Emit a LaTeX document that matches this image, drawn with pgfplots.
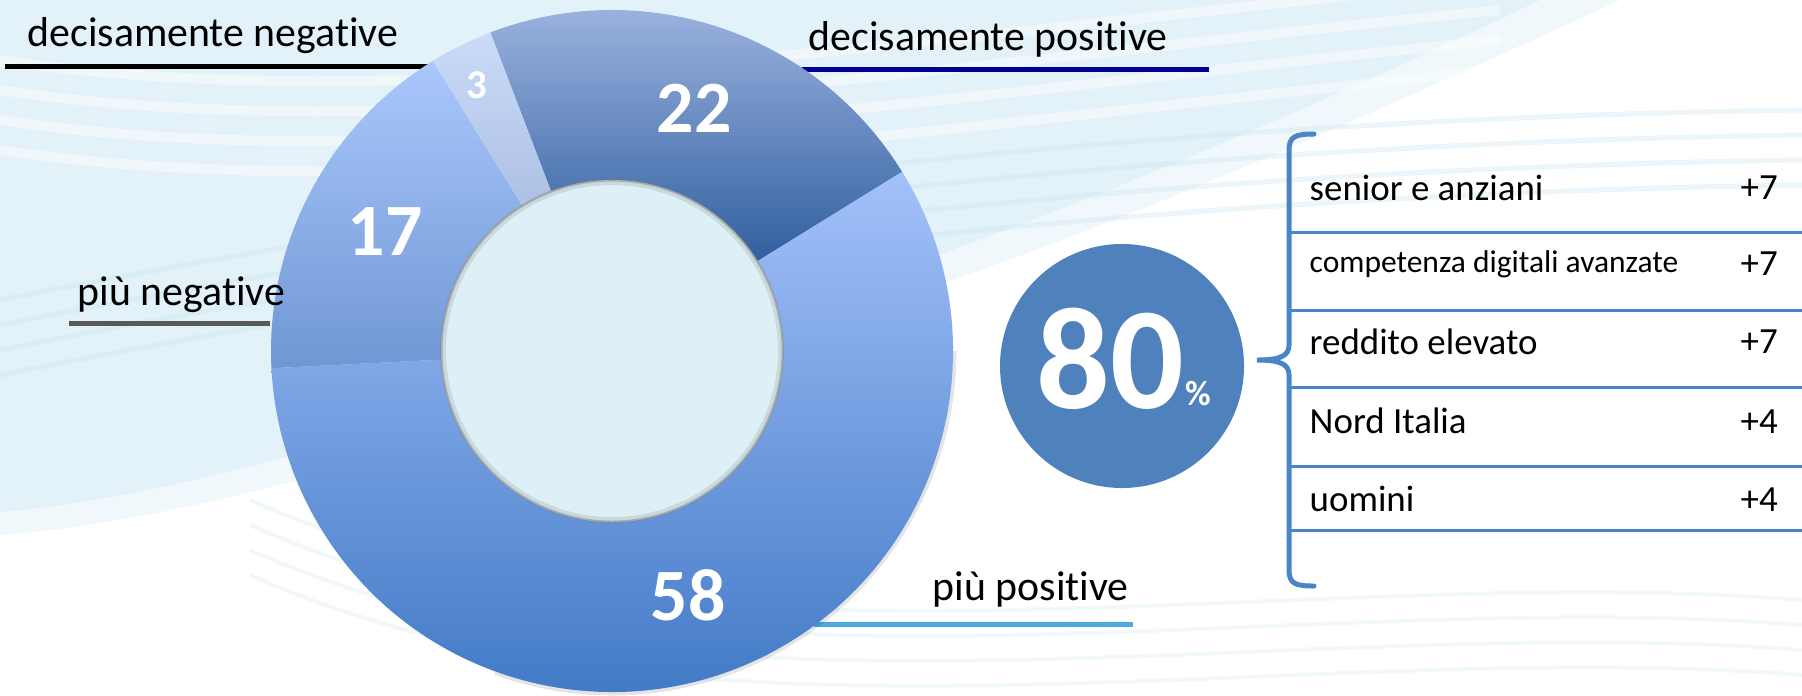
\documentclass[border=0pt]{standalone}
\usepackage{pgfplots}
\pgfplotsset{compat=1.18}
\usepackage{pgfplotstable}
\usepackage{fontspec}
\setmainfont[Ligatures={NoCommon,NoContextual,NoRare},Contextuals=NoAlternate]{Carlito}

\definecolor{bgblue}{HTML}{E2F2F8}
\definecolor{bgline}{HTML}{C9E4F1}
\definecolor{holebg}{HTML}{DDF0F6}
\definecolor{navy}{HTML}{000099}
\definecolor{lgray}{HTML}{595959}
\definecolor{aqua}{HTML}{4BA9DE}
\definecolor{circ}{HTML}{4F81BD}
\definecolor{brk}{HTML}{4A86C6}
\definecolor{aT}{HTML}{A9BDE7}\definecolor{aB}{HTML}{305F9F}
\definecolor{bT}{HTML}{A3C1F9}\definecolor{bB}{HTML}{3A74C2}
\definecolor{cT}{HTML}{AAC7FB}\definecolor{cB}{HTML}{7097D4}
\definecolor{dT}{HTML}{CBDBF8}\definecolor{dB}{HTML}{ADC1E5}

% donut values, clockwise from the top
\pgfplotstableread{
val
22
58
17
3
}\donut

\pgfplotstablegetelem{0}{val}\of\donut\let\vA\pgfplotsretval
\pgfplotstablegetelem{1}{val}\of\donut\let\vB\pgfplotsretval
\pgfplotstablegetelem{2}{val}\of\donut\let\vC\pgfplotsretval
\pgfplotstablegetelem{3}{val}\of\donut\let\vD\pgfplotsretval

\pgfmathsetmacro\aA{110.9}
\pgfmathsetmacro\aB{\aA-3.6*\vA}
\pgfmathsetmacro\aC{\aB-3.6*\vB}
\pgfmathsetmacro\aD{\aC-3.6*\vC}
\pgfmathsetmacro\aE{\aD-3.6*\vD}
\pgfmathsetmacro\mA{(\aA+\aB)/2}
\pgfmathsetmacro\mB{(\aB+\aC)/2}
\pgfmathsetmacro\mC{(\aC+\aD)/2}
\pgfmathsetmacro\mD{(\aD+\aE)/2}

\newcommand{\seg}[4]{% start, end, top colour, bottom colour
  \shade[top color=#3, bottom color=#4]
    ([shift={(#1:34.1mm)}]C) arc[start angle=#1, end angle=#2, radius=34.1mm]
    -- ([shift={(#2:17.1mm)}]C) arc[start angle=#2, end angle=#1, radius=17.1mm]
    -- cycle;}

\begin{document}
\begin{tikzpicture}
\begin{axis}[
  width=180.2mm, height=69.5mm, scale only axis,
  xmin=0, xmax=1802, ymin=0, ymax=695, y dir=reverse,
  hide axis, clip=false,
  at={(0,0)}, anchor=south west,
]
% background
\fill[white] (0,0) rectangle (1802,695);
\fill[bgblue, opacity=0.5] (0,0) -- (1620,0) .. controls (1340,130) and (1020,270) .. (760,340)
  .. controls (450,440) and (200,520) .. (0,535) -- cycle;
\fill[bgblue] (0,0) -- (1540,0) .. controls (1290,120) and (990,245) .. (760,315)
  .. controls (450,410) and (200,495) .. (0,512) -- cycle;
\pgfplotsinvokeforeach{0,30,60,90}{
  \draw[white, line width=1.0mm, opacity=0.45] (0,60+#1) .. controls (400,120+#1) and (900,40+#1) .. (1500,-20+#1);
}
\pgfplotsinvokeforeach{0,25,50,75}{
  \draw[bgline, line width=0.5mm, opacity=0.35] (0,300+#1) .. controls (500,200+#1) and (1100,120+#1) .. (1802,110+#1);
  \draw[bgline, line width=0.4mm, opacity=0.25] (250,500+#1) .. controls (700,700+#1) and (1300,560+#1) .. (1802,600+#1);
}

% leader lines
\draw[black, line width=0.5mm] (5,66.5) -- (428,66.5);
\draw[navy, line width=0.5mm] (802,69.5) -- (1209,69.5);
\draw[lgray, line width=0.5mm] (69,323.5) -- (270,323.5);
\draw[aqua, line width=0.5mm] (814,624.5) -- (1133,624.5);

% donut
\coordinate (C) at (612,351);
\draw[black, opacity=0.1, line width=0.5mm] ([shift={(-110:34.2mm)}]C) arc[start angle=-110, end angle=0, radius=34.2mm];
\seg{\aA}{\aB}{aT}{aB}
\seg{\aB}{\aC}{bT}{bB}
\seg{\aC}{\aD}{cT}{cB}
\seg{\aD}{\aE}{dT}{dB}
\fill[holebg] (C) circle[radius=17.1mm];
\draw[gray, opacity=0.2, line width=0.6mm] (C) circle[radius=16.9mm];
\draw[gray, opacity=0.5, line width=0.2mm] (C) circle[radius=17.05mm];

% segment values
\node[white, font=\fontsize{21}{21}\selectfont\bfseries, inner sep=0] at ([shift={(\mA:25.6mm)}]C) {\vA};
\node[white, font=\fontsize{21}{21}\selectfont\bfseries, inner sep=0] at ([shift={(\mB:25.6mm)}]C) {\vB};
\node[white, font=\fontsize{21}{21}\selectfont\bfseries, inner sep=0] at ([shift={(\mC:25.6mm)}]C) {\vC};
\node[white, font=\fontsize{11.6}{12}\selectfont\bfseries, inner sep=0] at ([shift={(117:29.8mm)}]C) {\vD};

% category labels
\node[anchor=base west, inner sep=0, font=\fontsize{11.9}{14}\selectfont] at (27,46) {decisamente negat\kern0pt ive};
\node[anchor=base west, inner sep=0, font=\fontsize{11.9}{14}\selectfont] at (808,50) {decisamente posit\kern0pt ive};
\node[anchor=base west, inner sep=0, font=\fontsize{11.9}{14}\selectfont] at (77,305) {più negat\kern0pt ive};
\node[anchor=base west, inner sep=0, font=\fontsize{11.9}{14}\selectfont] at (932,600) {più posit\kern0pt ive};

% 80% circle
\fill[circ] (1122,366) circle[radius=12.2mm];
\node[white, inner sep=0, font=\fontsize{41.4}{42}\selectfont\bfseries] at (1110,359) {80};
\node[white, inner sep=0, font=\fontsize{10}{10}\selectfont\bfseries] at (1198,393.5) {\%};

% bracket and rows
\draw[brk, line width=0.5mm, line cap=round] (1314,134) .. controls (1296,134) and (1289,136) .. (1289,150)
  -- (1289,345) .. controls (1289,356) and (1280,360) .. (1257,360)
  .. controls (1280,360) and (1289,364) .. (1289,375)
  -- (1289,570) .. controls (1289,584) and (1296,586) .. (1314,586);
\pgfplotsinvokeforeach{232,310,387,466,530}{
  \draw[brk, line width=0.3mm] (1289,#1) -- (1802,#1);
}
\node[anchor=base west, inner sep=0, font=\fontsize{10.5}{12}\selectfont] at (1309,200) {senior e anziani};
\node[anchor=base west, inner sep=0, font=\fontsize{8.96}{10}\selectfont] at (1309,272) {competenza digitali avanzate};
\node[anchor=base west, inner sep=0, font=\fontsize{10.5}{12}\selectfont] at (1309,354) {reddito elevato};
\node[anchor=base west, inner sep=0, font=\fontsize{10.5}{12}\selectfont] at (1309,433) {Nord Italia};
\node[anchor=base west, inner sep=0, font=\fontsize{10.5}{12}\selectfont] at (1309,511) {uomini};
\node[anchor=base west, inner sep=0, font=\fontsize{10.5}{12}\selectfont] at (1740,199) {+7};
\node[anchor=base west, inner sep=0, font=\fontsize{10.5}{12}\selectfont] at (1740,275) {+7};
\node[anchor=base west, inner sep=0, font=\fontsize{10.5}{12}\selectfont] at (1740,353) {+7};
\node[anchor=base west, inner sep=0, font=\fontsize{10.5}{12}\selectfont] at (1740,433) {+4};
\node[anchor=base west, inner sep=0, font=\fontsize{10.5}{12}\selectfont] at (1740,511) {+4};
\end{axis}
\pgfresetboundingbox
\useasboundingbox (0,0) rectangle (180.2mm,69.5mm);
\end{tikzpicture}
\end{document}
